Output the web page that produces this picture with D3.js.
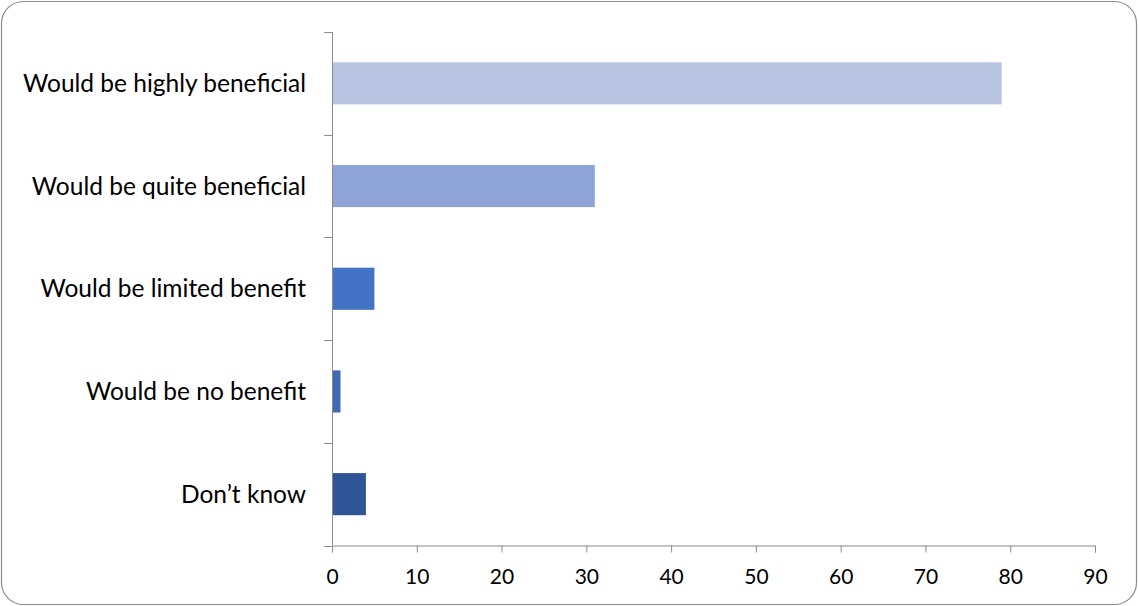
<!DOCTYPE html>
<html>
<head>
<meta charset="utf-8">
<script src="https://cdn.jsdelivr.net/npm/d3@7"></script>
<style>
  body { margin: 0; background: #fff; }
  text { font-family: Lato, "Open Sans", sans-serif; }
</style>
</head>
<body>
<div id="chart"></div>
<script>
var categories = ["Would be highly beneficial", "Would be quite beneficial", "Would be limited benefit", "Would be no benefit", "Don\u2019t know"];
var values = [79, 31, 5, 1, 4];
var barColors = ["#b9c4e3", "#8fa4d6", "#4472c4", "#3f68b6", "#2f5597"];
var xTicks = [0, 10, 20, 30, 40, 50, 60, 70, 80, 90];

var W = 1138, H = 606;
var margin = { top: 32, right: 43, bottom: 60, left: 332 };

var svg = d3.select("#chart").append("svg")
    .attr("width", W)
    .attr("height", H);

// outer rounded frame
svg.append("rect")
    .attr("x", 1.5).attr("y", 1.5)
    .attr("width", W - 3).attr("height", H - 3)
    .attr("rx", 22).attr("ry", 22)
    .attr("fill", "#fff")
    .attr("stroke", "#8c8c8c")
    .attr("stroke-width", 1.2);

var g = svg.append("g")
    .attr("transform", "translate(" + margin.left + "," + margin.top + ")");

var width = 1095 - margin.left,
    height = 545.5 - margin.top;

var x = d3.scaleLinear().domain([0, 90]).range([0, width]);
var y = d3.scaleBand().domain(categories).range([0, height]).paddingInner(0.59).paddingOuter(0.295);

// bars
g.selectAll(".bar")
    .data(values)
    .enter()
    .append("rect")
    .attr("class", "bar")
    .attr("x", 0)
    .attr("y", function (d, i) { return y(categories[i]); })
    .attr("height", y.bandwidth())
    .attr("width", function (d) { return x(d); })
    .attr("fill", function (d, i) { return barColors[i]; });

// y axis: ticks between categories
var yBounds = d3.range(categories.length + 1).map(function (i) { return i * height / categories.length; });
var yAxis = g.append("g").attr("class", "y axis");
yAxis.append("line")
    .attr("x1", 0.5).attr("x2", 0.5)
    .attr("y1", 0).attr("y2", height)
    .attr("stroke", "#8c8c8c");
yAxis.selectAll(".ytick")
    .data(yBounds)
    .enter().append("line")
    .attr("x1", -8).attr("x2", 0.5)
    .attr("y1", function (d) { return Math.round(d) + 0.5; })
    .attr("y2", function (d) { return Math.round(d) + 0.5; })
    .attr("stroke", "#8c8c8c");
yAxis.selectAll(".ylab")
    .data(categories)
    .enter().append("text")
    .attr("x", -26)
    .attr("y", function (d) { return y(d) + y.bandwidth() / 2; })
    .attr("dy", "0.35em")
    .attr("text-anchor", "end")
    .attr("font-size", 24.5)
    .attr("fill", "#000")
    .text(function (d) { return d; });

// x axis
var xAxis = d3.axisBottom(x).tickValues(xTicks).tickSize(7).tickPadding(17);
var gx = g.append("g")
    .attr("class", "x axis")
    .attr("transform", "translate(0," + height + ")")
    .call(xAxis);
gx.select(".domain").attr("stroke", "#8c8c8c");
gx.selectAll(".tick line").attr("stroke", "#8c8c8c");
gx.selectAll(".tick text")
    .attr("font-size", 21)
    .attr("font-family", "Lato, sans-serif")
    .attr("fill", "#000");
</script>
</body>
</html>
